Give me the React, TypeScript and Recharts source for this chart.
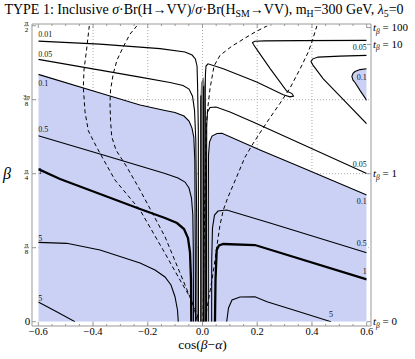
import React from 'react';
import { ComposedChart, Line, Area, Scatter, XAxis, YAxis, CartesianGrid } from 'recharts';

const PI = Math.PI;
const serif = '"Liberation Serif", "DejaVu Serif", serif';
const BLUE = '#cad1f5';
const FRAME = '#999';

// contour lines of the ratio, points are [cos(β−α), β]
const left001 = [[-0.6, 1.489], [-0.375, 1.473], [-0.155, 1.449], [-0.064, 1.431], [-0.038, 1.415], [-0.026, 1.394], [-0.02, 1.357], [-0.018, 1.256], [-0.0153, 1.017], [-0.0146, 0]];
const left005 = [[-0.6, 1.392], [-0.3745, 1.335], [-0.2283, 1.298], [-0.1187, 1.269], [-0.0712, 1.253], [-0.0493, 1.2345], [-0.0365, 1.197], [-0.0292, 1.123], [-0.0245, 0.964], [-0.0212, 0.54], [-0.0201, 0]];
const left01 = [[-0.6, 1.3125], [-0.3745, 1.2133], [-0.2283, 1.1496], [-0.137, 1.1204], [-0.1005, 1.1098], [-0.0676, 1.0912], [-0.0493, 1.0647], [-0.0384, 1.0276], [-0.0318, 0.9798], [-0.0281, 0.8578], [-0.0263, 0.3804], [-0.0256, 0]];
const left05 = [[-0.6, 0.9867], [-0.3745, 0.8897], [-0.2283, 0.826], [-0.137, 0.7862], [-0.0895, 0.7623], [-0.0639, 0.7411], [-0.0493, 0.7093], [-0.0402, 0.6562], [-0.0354, 0.566], [-0.0336, 0.3804], [-0.0329, 0]];
const left1 = [[-0.6, 0.8101], [-0.5206, 0.757], [-0.3745, 0.6775], [-0.2283, 0.5979], [-0.137, 0.5501], [-0.0932, 0.5236], [-0.0676, 0.4918], [-0.053, 0.444], [-0.0457, 0.3698], [-0.042, 0.2212], [-0.0409, 0]];
const left5 = [[-0.6, 0.4212], [-0.4962, 0.4159], [-0.3745, 0.3804], [-0.2283, 0.3114], [-0.1735, 0.2743], [-0.137, 0.2371], [-0.1151, 0.1947], [-0.1005, 0.1326], [-0.0914, 0.0621], [-0.0885, 0]];
const corner5 = [[-0.6, 0.104], [-0.533, 0.053], [-0.466, 0]];

const right001 = [[0.0102, 0], [0.0099, 0.6456], [0.0099, 1.1761], [0.0106, 1.3088], [0.0128, 1.3565], [0.0201, 1.3687], [0.076, 1.3422], [0.198, 1.2716], [0.2952, 1.2042], [0.3197, 1.1931], [0.3325, 1.1973], [0.327, 1.2106], [0.3076, 1.2239], [0.2466, 1.3443], [0.2028, 1.4361], [0.1863, 1.4706], [0.1827, 1.4812], [0.1918, 1.488], [0.2284, 1.4902], [0.3563, 1.4918], [0.6, 1.4928]];
const upper005 = [[0.6, 1.4133], [0.5024, 1.4095], [0.422, 1.4042], [0.4019, 1.3936], [0.3964, 1.3804], [0.4037, 1.3618], [0.4413, 1.2891], [0.5024, 1.1973], [0.6, 1.0504]];
const blobX = [0.546, 0.55, 0.5573, 0.5755, 0.6];
const blobLo = [1.3, 1.282, 1.2695, 1.2276, 1.1745];
const blobHi = [1.302, 1.318, 1.3273, 1.3379, 1.3422];
const right005 = [[0.0145, 0], [0.0147, 0.6456], [0.0153, 1.0435], [0.0183, 1.1125], [0.0274, 1.1363], [0.0493, 1.139], [0.1005, 1.1125], [0.1845, 1.0594], [0.3563, 0.9464], [0.6, 0.7862]];
const right01 = [[0.0211, 0], [0.0213, 0.6456], [0.0219, 0.8843], [0.0256, 0.9533], [0.0347, 0.9851], [0.053, 0.9984], [0.0712, 0.9995], [0.2101, 0.9109], [0.3563, 0.8223], [0.6, 0.6721]];
const right05 = [[0.0335, 0], [0.0337, 0.3273], [0.0365, 0.4971], [0.0438, 0.566], [0.0566, 0.5873], [0.0884, 0.5926], [0.2466, 0.5236], [0.6, 0.366]];
const right1 = [[0.0456, 0], [0.0475, 0.2212], [0.0519, 0.3804], [0.0603, 0.4042], [0.076, 0.4122], [0.1918, 0.4069], [0.6, 0.2249]];
const right5 = [[0.0884, 0], [0.095, 0.0727], [0.1078, 0.1151], [0.137, 0.131], [0.1918, 0.1326], [0.2357, 0.1061], [0.3563, 0.0515], [0.4695, 0]];

// narrow band of crowded contours around cos(β−α)=0
const bandX = [-0.0091, -0.005, 0.004, 0.009, 0.0128];
const bandTop = [1.15, 1.27, 1.3, 1.25, 1.1];
const bandLines = [[[-0.006, 0], [-0.006, 1.2]], [[0.004, 0], [0.004, 1.25]]];

// dashed curves
const dash1 = [[-0.4136, 1.5708], [-0.4238, 1.4414], [-0.433, 1.3353], [-0.4355, 1.2451], [-0.4293, 1.1141], [-0.4172, 1.0133], [-0.3964, 0.9533], [-0.3745, 0.8934], [-0.3197, 0.7517], [-0.2283, 0.5926], [-0.137, 0.3629], [-0.0822, 0.2212], [-0.0395, 0.1151], [-0.0237, 0.0355], [-0.0183, 0]];
const dash2 = [[-0.2393, 1.5708], [-0.2649, 1.5263], [-0.2894, 1.4589], [-0.3124, 1.3883], [-0.3259, 1.3178], [-0.3361, 1.2292], [-0.338, 1.1586], [-0.3361, 1.0674], [-0.3317, 0.9814], [-0.316, 0.9109], [-0.277, 0.8223], [-0.2283, 0.6987], [-0.137, 0.4509], [-0.0639, 0.1947], [-0.0212, 0.0446], [-0.0128, 0]];
const dash3 = [[0.4183, 1.5708], [0.4019, 1.4944], [0.3865, 1.4308], [0.3563, 1.3406], [0.3197, 1.2398], [0.2832, 1.159], [0.2357, 1.0594], [0.1856, 0.9475], [0.1553, 0.8732], [0.125, 0.7692], [0.0932, 0.6615], [0.076, 0.5926], [0.0639, 0.513], [0.0548, 0.4228], [0.0457, 0.3273], [0.0347, 0.2212], [0.0237, 0.131], [0.0153, 0.0621], [0.0121, 0]];
const dash4 = [[0.2375, 1.5708], [0.1918, 1.5369], [0.1553, 1.505], [0.1078, 1.4626], [0.0639, 1.4133], [0.042, 1.3565], [0.0274, 1.2361], [0.0183, 1.1231], [0.0153, 1.0594], [0.0128, 0.9374], [0.0091, 0.6987], [0.0055, 0.3804], [0.0018, 0]];

// contour value labels
const labelText = ['0.01', '0.05', '0.1', '0.5', '1', '5', '5', '0.05', '0.1', '0.05', '0.1', '0.5', '1', '5'];
const labelX = [-0.6, -0.6, -0.6, -0.6, -0.6, -0.6, -0.6, 0.6, 0.6, 0.6, 0.6, 0.6, 0.6, 0.4695];
const labelY = [1.5103, 1.4069, 1.2531, 1.0064, 0.7862, 0.4308, 0.1125, 1.4414, 1.2849, 0.8207, 0.6244, 0.4016, 0.2531, 0.0223];

const xTicks = [-0.6, -0.55, -0.5, -0.45, -0.4, -0.35, -0.3, -0.25, -0.2, -0.15, -0.1, -0.05, 0, 0.05, 0.1, 0.15, 0.2, 0.25, 0.3, 0.35, 0.4, 0.45, 0.5, 0.55, 0.6];
const xMajor = [-0.6, -0.4, -0.2, 0, 0.2, 0.4, 0.6];
const yTicks = [0, PI / 8, PI / 4, (3 * PI) / 8, PI / 2];
const yTickLabels = [['0'], ['π', '8'], ['π', '4'], ['3π', '8'], ['π', '2']];
const tbTicks = [0, Math.atan(1), Math.atan(10), Math.atan(100)];
const tbLabels = ['0', '1', '10', '100'];
const gridX = [-0.4, -0.2, 0, 0.2, 0.4];
const gridY = [PI / 8, PI / 4, (3 * PI) / 8];

const pts = (a: number[][]) => a.map(([x, y]) => ({ x, y }));
const near = (a: number, b: number) => Math.abs(a - b) < 1e-6;
const fmtX = (v: number) => (near(v, 0) ? '0.0' : (v < 0 ? '\u2212' : '') + Math.abs(v).toFixed(1));

const blobArea = blobX.map((x, i) => ({ x, y: [blobLo[i], blobHi[i]] }));
const blobEdge = [
  ...blobX.map((x, i) => ({ x, y: blobHi[i] })).reverse(),
  ...blobX.map((x, i) => ({ x, y: blobLo[i] })),
];
const bandArea = bandX.map((x, i) => ({ x, y: [0, bandTop[i]] }));
const labels = labelText.map((t, i) => ({ x: labelX[i], y: labelY[i], t }));

const solid = [left001, left005, left01, left05, left5, corner5, right001, upper005, right005, right01, right05, right5, ...bandLines];
const thick = [left1, right1];
const dashed = [dash1, dash2, dash3, dash4];

const txt = { fontFamily: serif };

const BottomTick = (p: any) => {
  const v = p.payload.value;
  const major = xMajor.some((m) => near(m, v));
  return (
    <g>
      <line x1={p.x} x2={p.x} y1={p.y} y2={p.y - (major ? 4 : 2)} stroke={FRAME} />
      {major && (
        <text x={p.x} y={p.y + 9} textAnchor="middle" fontSize={10.5} style={txt} fill="#000">
          {fmtX(v)}
        </text>
      )}
    </g>
  );
};

const TopTick = (p: any) => {
  const major = xMajor.some((m) => near(m, p.payload.value));
  return <line x1={p.x} x2={p.x} y1={p.y} y2={p.y + (major ? 4 : 2)} stroke={FRAME} />;
};

const LeftTick = (p: any) => {
  const i = yTicks.findIndex((t) => near(t, p.payload.value));
  const lab = yTickLabels[i];
  const cx = p.x - 5.5;
  return (
    <g style={txt} fill="#000">
      <line x1={p.x} x2={p.x + 4} y1={p.y} y2={p.y} stroke={FRAME} />
      {lab.length === 1 ? (
        <text x={p.x - 4.5} y={p.y + 3.5} textAnchor="middle" fontSize={11} style={txt}>{lab[0]}</text>
      ) : (
        <g>
          <text x={cx} y={p.y - 1.2} textAnchor="middle" fontSize={7} style={txt}>{lab[0]}</text>
          <line x1={cx - 2.5} x2={cx + 2.5} y1={p.y} y2={p.y} stroke="#000" strokeWidth={0.5} />
          <text x={cx} y={p.y + 6} textAnchor="middle" fontSize={7} style={txt}>{lab[1]}</text>
        </g>
      )}
    </g>
  );
};

const RightTick = (p: any) => {
  const i = tbTicks.findIndex((t) => near(t, p.payload.value));
  return (
    <g>
      <line x1={p.x} x2={p.x - 4} y1={p.y} y2={p.y} stroke={FRAME} />
      <text x={p.x + 2} y={p.y + 3.5} fontSize={11} style={txt} fill="#000">
        <tspan fontStyle="italic">t</tspan>
        <tspan fontSize={7.5} dy={2.5} fontStyle="italic">β</tspan>
        <tspan dy={-2.5}>{' = ' + tbLabels[i]}</tspan>
      </text>
    </g>
  );
};

const ContourLabel = (p: any) => {
  const v = p.payload;
  const anchor = v.x < 0 ? 'start' : v.x > 0.59 ? 'end' : 'middle';
  return (
    <text x={p.cx} y={p.cy} textAnchor={anchor} fontSize={8} style={txt} fill="#111">
      {v.t}
    </text>
  );
};

const sub = { fontSize: '70%', position: 'relative' as const, top: '0.3em' };

export default function App() {
  return (
    <div style={{ position: 'absolute', left: 0, top: 0, width: 415, height: 359, background: '#fff' }}>
      <div style={{ position: 'absolute', left: 0, top: 3.3, width: 408, textAlign: 'center', fontFamily: serif, fontSize: 14, lineHeight: '14px', whiteSpace: 'nowrap' }}>
        TYPE 1: Inclusive <i>σ</i>·Br(H→VV)/<i>σ</i>·Br(H<span style={sub}>SM</span>→VV), m<span style={sub}>H</span>=300 GeV, <i>λ</i><span style={sub}>5</span>=0
      </div>
      <ComposedChart width={415} height={359} margin={{ top: 20, right: 0, bottom: 0, left: 0 }}>
        <CartesianGrid verticalValues={gridX} horizontalValues={gridY} stroke="#aaa" strokeDasharray="1 2" />
        <XAxis type="number" dataKey="x" domain={[-0.6, 0.6]} allowDataOverflow ticks={xTicks} interval={0}
          height={33} padding={{ left: 6.3, right: 4.3 }} tickSize={0} tickMargin={0} tickLine={false}
          axisLine={{ stroke: FRAME }} tick={<BottomTick />} />
        <XAxis xAxisId="top" orientation="top" type="number" dataKey="x" domain={[-0.6, 0.6]} allowDataOverflow
          ticks={xTicks} interval={0} height={4} padding={{ left: 6.3, right: 4.3 }} tickSize={0} tickMargin={0}
          tickLine={false} axisLine={{ stroke: FRAME }} tick={<TopTick />} />
        <YAxis type="number" dataKey="y" domain={[0, PI / 2]} allowDataOverflow ticks={yTicks} interval={0}
          width={32} padding={{ top: 1.7, bottom: 4.3 }} tickSize={0} tickMargin={0} tickLine={false}
          axisLine={{ stroke: FRAME }} tick={<LeftTick />} />
        <YAxis yAxisId="right" orientation="right" type="number" dataKey="y" domain={[0, PI / 2]} allowDataOverflow
          ticks={tbTicks} interval={0} width={44} padding={{ top: 1.7, bottom: 4.3 }} tickSize={0} tickMargin={0}
          tickLine={false} axisLine={{ stroke: FRAME }} tick={<RightTick />} />

        <Area data={pts(left01)} dataKey="y" type="linear" stroke="none" fill={BLUE} fillOpacity={1} isAnimationActive={false} />
        <Area data={pts(right01)} dataKey="y" type="linear" stroke="none" fill={BLUE} fillOpacity={1} isAnimationActive={false} />
        <Area data={blobArea} dataKey="y" type="linear" stroke="none" fill={BLUE} fillOpacity={1} isAnimationActive={false} />
        <Area data={bandArea} dataKey="y" type="linear" stroke="none" fill="#7a7a7a" fillOpacity={1} isAnimationActive={false} />

        {solid.map((c, i) => (
          <Line key={`s${i}`} data={pts(c)} dataKey="y" type="linear" stroke="#000" strokeWidth={1.1}
            dot={false} activeDot={false} isAnimationActive={false} />
        ))}
        <Line data={blobEdge} dataKey="y" type="linear" stroke="#000" strokeWidth={1.1} dot={false} activeDot={false} isAnimationActive={false} />
        {thick.map((c, i) => (
          <Line key={`t${i}`} data={pts(c)} dataKey="y" type="linear" stroke="#000" strokeWidth={2.3}
            dot={false} activeDot={false} isAnimationActive={false} />
        ))}
        {dashed.map((c, i) => (
          <Line key={`d${i}`} data={pts(c)} dataKey="y" type="linear" stroke="#000" strokeWidth={1}
            strokeDasharray="4 3" dot={false} activeDot={false} isAnimationActive={false} />
        ))}
        <Scatter data={labels} shape={<ContourLabel />} isAnimationActive={false} />
      </ComposedChart>
      <div style={{ position: 'absolute', left: 3, top: 165.6, fontFamily: serif, fontSize: 16, lineHeight: '16px', fontStyle: 'italic' }}>β</div>
      <div style={{ position: 'absolute', left: 0, top: 338, width: 405, textAlign: 'center', fontFamily: serif, fontSize: 13.5, lineHeight: '13.5px' }}>
        cos(<i>β</i>−<i>α</i>)
      </div>
    </div>
  );
}
